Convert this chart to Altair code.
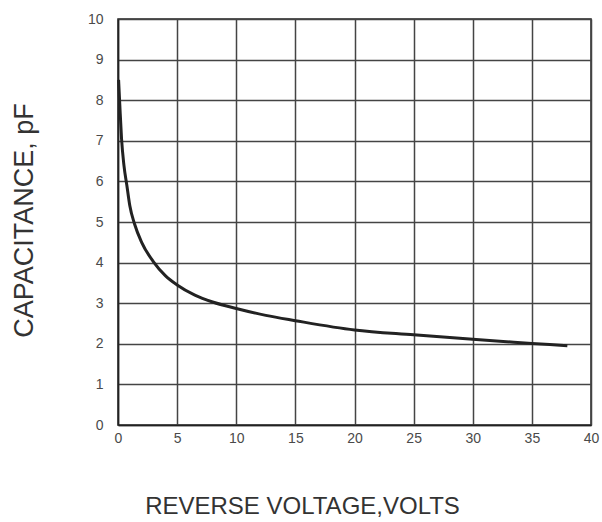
import altair as alt
import pandas as pd

voltage = [0.05, 0.15, 0.3, 0.5, 0.75, 1.0, 1.4, 2.0, 3.0, 4.0, 5.0, 6.5, 8.0, 10, 12.5, 15, 20, 25, 30, 35, 38]
capacitance = [8.5, 7.9, 7.05, 6.4, 5.9, 5.4, 4.95, 4.5, 4.02, 3.68, 3.45, 3.2, 3.03, 2.87, 2.7, 2.57, 2.34, 2.22, 2.11, 2.01, 1.95]

x_ticks = [0, 5, 10, 15, 20, 25, 30, 35, 40]
y_ticks = [0, 1, 2, 3, 4, 5, 6, 7, 8, 9, 10]

df = pd.DataFrame({"v": voltage, "c": capacitance})

chart = alt.Chart(df).mark_line(
    color="#222222", strokeWidth=3, interpolate="monotone"
).encode(
    x=alt.X("v:Q", scale=alt.Scale(domain=[0, 40], nice=False),
            axis=alt.Axis(values=x_ticks, title="REVERSE VOLTAGE,VOLTS",
                          grid=True, ticks=False, labelPadding=6, labelFlush=False,
                          titleX=184, titleY=81)),
    y=alt.Y("c:Q", scale=alt.Scale(domain=[0, 10], nice=False),
            axis=alt.Axis(values=y_ticks, title="CAPACITANCE, pF",
                          grid=True, ticks=False, labelPadding=15, labelFlush=False,
                          titleX=-94, titleY=201, titleFontSize=27)),
).properties(
    width=473, height=406,
    autosize=alt.AutoSizeParams(type="none"),
    padding={"left": 118, "top": 19, "right": 11, "bottom": 97},
).configure_view(
    stroke="#222222", strokeWidth=1.5
).configure_axis(
    gridColor="#444444", gridWidth=1.5, gridOpacity=1,
    domainColor="#222222", domainWidth=1.5,
    labelFont="Liberation Sans", labelFontSize=14, labelColor="#4a4a4a",
    titleFont="Liberation Sans", titleFontSize=24, titleFontWeight="normal",
    titleColor="#333333",
).configure_axisX(
    titleAlign="center", titleBaseline="middle"
).configure_axisY(
    titleAlign="center", titleBaseline="middle", titleAngle=-90
)

chart.save("out.html", embed_options={"renderer": "svg", "actions": False})
